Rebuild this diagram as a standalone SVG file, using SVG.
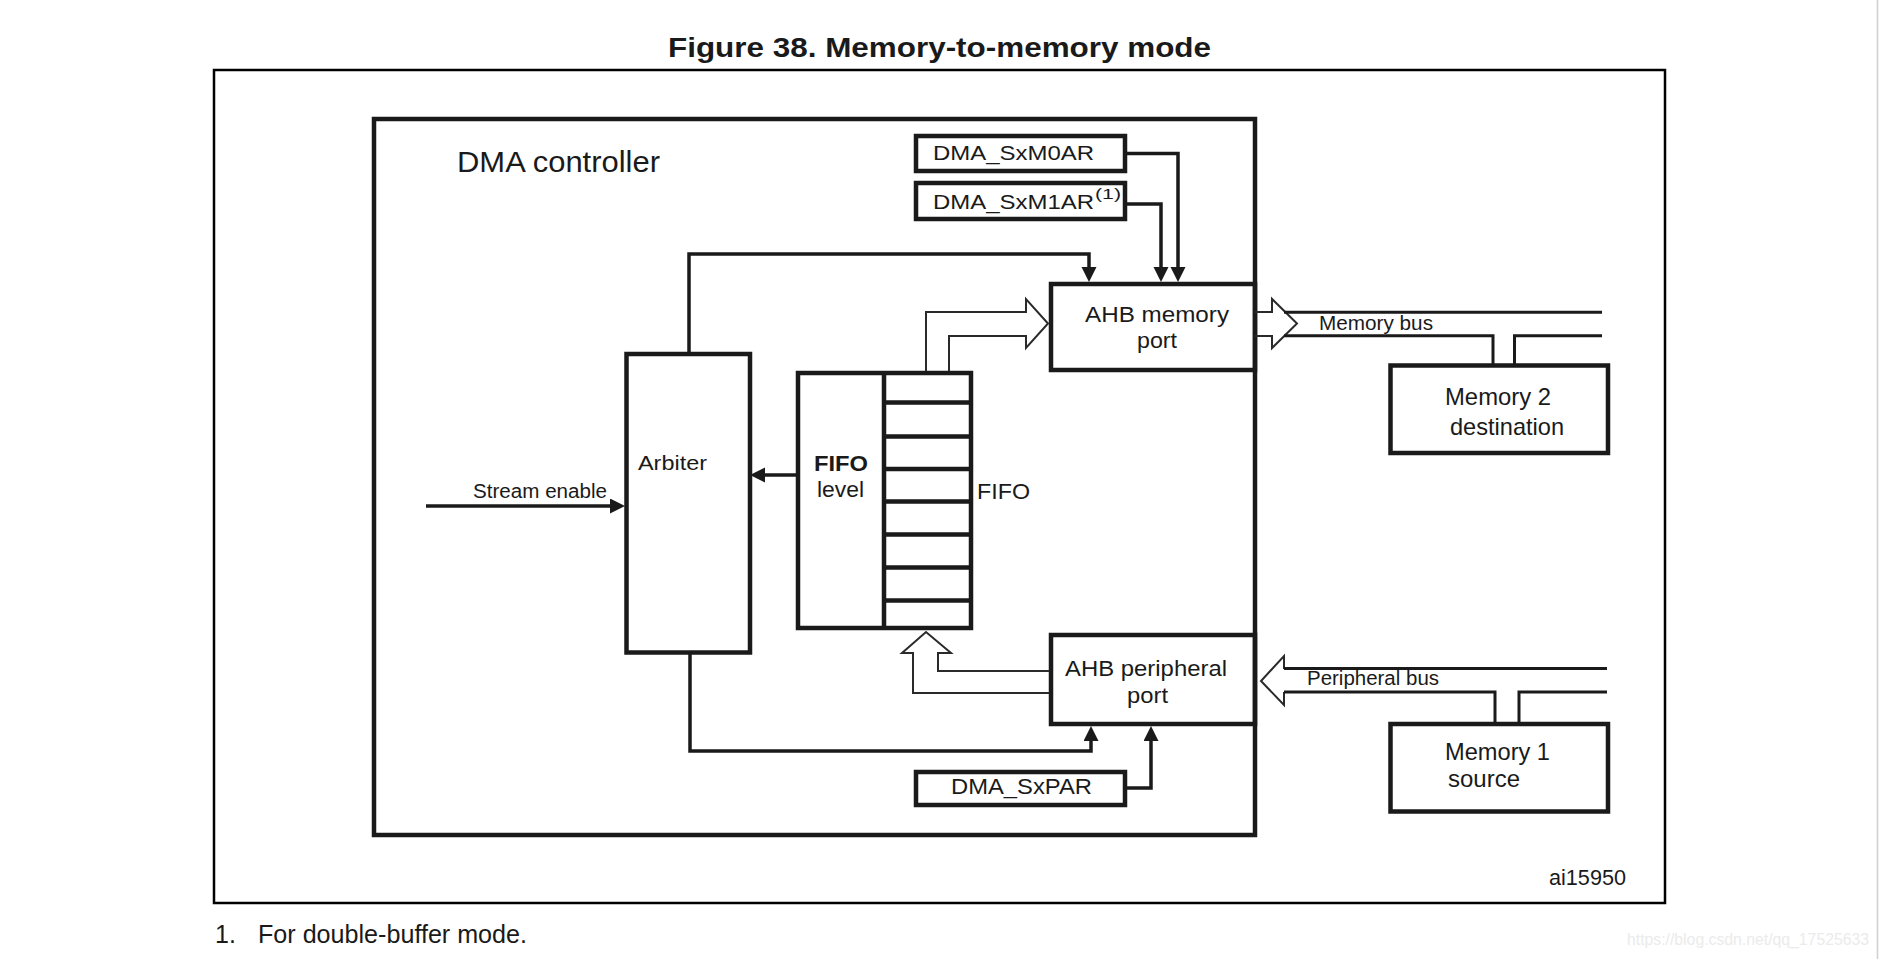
<svg xmlns="http://www.w3.org/2000/svg" width="1879" height="959" viewBox="0 0 1879 959">
<defs>
<style>
text{font-family:"Liberation Sans",Arial,sans-serif;fill:#1a1a1a}
.box{fill:none;stroke:#1a1a1a;stroke-width:4.5}
.wire{fill:none;stroke:#1a1a1a;stroke-width:3.5}
.bus{fill:none;stroke:#1a1a1a;stroke-width:3}
.hollow{fill:none;stroke:#2a2a2a;stroke-width:2;stroke-linejoin:miter}
</style>
<marker id="ah" markerUnits="userSpaceOnUse" markerWidth="16" markerHeight="16" refX="3" refY="7.5" orient="auto">
<path d="M0,0 L15,7.5 L0,15 z" fill="#1a1a1a"/>
</marker>
</defs>
<rect width="1879" height="959" fill="#fff"/>
<line x1="1877.5" y1="0" x2="1877.5" y2="959" stroke="#d0d0d0" stroke-width="1.5"/>

<text x="668" y="57" font-size="27" font-weight="bold" textLength="543" lengthAdjust="spacingAndGlyphs">Figure 38. Memory-to-memory mode</text>
<rect x="214" y="70" width="1451" height="833" fill="none" stroke="#000" stroke-width="2.5"/>

<g id="dma-controller">
<rect class="box" x="374" y="119" width="881" height="716"/>
<text x="457" y="172" font-size="29" textLength="203" lengthAdjust="spacingAndGlyphs">DMA controller</text>
</g>

<g id="reg-m0ar">
<rect class="box" x="916" y="136" width="209" height="35"/>
<text x="933" y="160" font-size="21" textLength="161" lengthAdjust="spacingAndGlyphs">DMA_SxM0AR</text>
</g>
<g id="reg-m1ar">
<rect class="box" x="916" y="183" width="209" height="36"/>
<text x="933" y="209" font-size="21" textLength="161" lengthAdjust="spacingAndGlyphs">DMA_SxM1AR</text>
<text x="1095" y="199" font-size="15" textLength="26" lengthAdjust="spacingAndGlyphs">(1)</text>
</g>
<g id="reg-par">
<rect class="box" x="916" y="772" width="209" height="33"/>
<text x="951" y="794" font-size="22" textLength="141" lengthAdjust="spacingAndGlyphs">DMA_SxPAR</text>
</g>

<g id="ahb-memory-port">
<rect class="box" x="1051" y="284" width="204" height="86"/>
<text x="1085" y="322" font-size="22" textLength="144" lengthAdjust="spacingAndGlyphs">AHB memory</text>
<text x="1137" y="348" font-size="22" textLength="40" lengthAdjust="spacingAndGlyphs">port</text>
</g>
<g id="ahb-peripheral-port">
<rect class="box" x="1051" y="635" width="204" height="89"/>
<text x="1065" y="676" font-size="22" textLength="162" lengthAdjust="spacingAndGlyphs">AHB peripheral</text>
<text x="1127" y="703" font-size="22" textLength="41" lengthAdjust="spacingAndGlyphs">port</text>
</g>

<g id="arbiter">
<rect class="box" x="626.5" y="354" width="123.5" height="298.5"/>
<text x="638" y="470" font-size="21" textLength="69" lengthAdjust="spacingAndGlyphs">Arbiter</text>
</g>

<g id="fifo">
<rect class="box" x="798" y="373" width="173" height="255"/>
<line class="box" x1="884" y1="373" x2="884" y2="628"/>
<path class="box" d="M884,402.5 H971 M884,436.5 H971 M884,469 H971 M884,501.5 H971 M884,534.5 H971 M884,567.5 H971 M884,600.5 H971"/>
<text x="814" y="471" font-size="22" font-weight="bold" textLength="54" lengthAdjust="spacingAndGlyphs">FIFO</text>
<text x="817" y="497" font-size="22" textLength="47" lengthAdjust="spacingAndGlyphs">level</text>
<text x="977" y="499" font-size="22" textLength="53" lengthAdjust="spacingAndGlyphs">FIFO</text>
</g>

<g id="memory2">
<rect class="box" x="1390.5" y="365.5" width="217.5" height="87.5"/>
<text x="1445" y="405" font-size="24" textLength="106" lengthAdjust="spacingAndGlyphs">Memory 2</text>
<text x="1450" y="435" font-size="24" textLength="114" lengthAdjust="spacingAndGlyphs">destination</text>
</g>
<g id="memory1">
<rect class="box" x="1390.5" y="724" width="217.5" height="87.5"/>
<text x="1445" y="760" font-size="24" textLength="105" lengthAdjust="spacingAndGlyphs">Memory 1</text>
<text x="1448" y="787" font-size="24" textLength="72" lengthAdjust="spacingAndGlyphs">source</text>
</g>

<g id="connectors">
<path class="wire" d="M1125,153.5 H1178 V270" marker-end="url(#ah)"/>
<path class="wire" d="M1125,204 H1161 V270" marker-end="url(#ah)"/>
<path class="wire" d="M689,354 V254 H1089 V270" marker-end="url(#ah)"/>
<path class="wire" d="M690,652.5 V751 H1091 V738" marker-end="url(#ah)"/>
<path class="wire" d="M1125,788 H1151 V738" marker-end="url(#ah)"/>
<path class="wire" d="M426,506 H613" marker-end="url(#ah)"/>
<path class="wire" d="M796,475 H762" marker-end="url(#ah)"/>
<path class="hollow" d="M926,371 V312 H1026 V299 L1048,323.5 L1026,348 V336 H949 V371"/>
<path class="hollow" d="M1049,693 H913 V653 H902 L926,632 L951,653 H938 V671 H1049"/>
<path class="hollow" d="M1255,312 H1272 V299 L1297,323.5 L1272,348 V336 H1255"/>
<path class="bus" d="M1284,312.3 H1602 M1284,335.7 H1493 V365 M1514.5,365 V335.7 H1602"/>
<path class="hollow" d="M1284,669 V656 L1261,681 L1284,705 V692"/>
<path class="bus" d="M1284,668.5 H1607 M1284,692 H1495 V724 M1519,724 V692 H1607"/>
</g>

<text x="1319" y="330" font-size="20" textLength="114" lengthAdjust="spacingAndGlyphs">Memory bus</text>
<text x="1307" y="685" font-size="20" textLength="132" lengthAdjust="spacingAndGlyphs">Peripheral bus</text>
<text x="473" y="498" font-size="19.5" textLength="134" lengthAdjust="spacingAndGlyphs">Stream enable</text>
<text x="1549" y="885" font-size="22" textLength="77" lengthAdjust="spacingAndGlyphs">ai15950</text>
<text x="215" y="943" font-size="25">1.</text>
<text x="258" y="943" font-size="25" textLength="269" lengthAdjust="spacingAndGlyphs">For double-buffer mode.</text>
<text x="1627" y="945" font-size="16" textLength="242" lengthAdjust="spacingAndGlyphs" style="fill:#ebebeb">https://blog.csdn.net/qq_17525633</text>
</svg>
